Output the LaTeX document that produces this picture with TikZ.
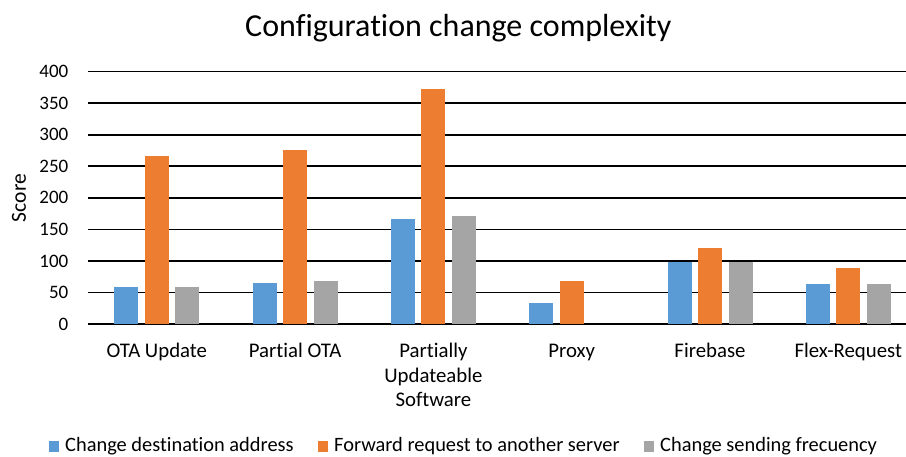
\documentclass[tikz,border=0pt]{standalone}
\usepackage{fontspec}
\setmainfont{Carlito}[Ligatures=NoCommon]

\tikzset{
    grid line/.style={draw=black, line width=1.6pt},
    tick label/.style={anchor=east, font=\fontsize{19}{22}\selectfont, inner sep=0pt},
    cat label/.style={anchor=base, align=center, font=\fontsize{20.8}{24.7}\selectfont, inner sep=0pt},
    legend label/.style={anchor=base west, font=\fontsize{20.4}{24}\selectfont, inner sep=0pt},
    addr bar/.style={fill=addrblue, draw=none},
    fwd bar/.style={fill=fwdorange, draw=none},
    freq bar/.style={fill=freqgray, draw=none}
}
\definecolor{addrblue}{HTML}{5B9BD5}
\definecolor{fwdorange}{HTML}{ED7D31}
\definecolor{freqgray}{HTML}{A5A5A5}

\begin{document}
\begin{tikzpicture}[x=1pt, y=1pt]
    \useasboundingbox (0,0) rectangle (906,456);

    % title and axis name
    \node[anchor=base, inner sep=0pt, font=\fontsize{32}{36}\selectfont] (title) at (458.3,419.3) {Configuration change complexity};
    \node[rotate=90, inner sep=0pt, font=\fontsize{21.5}{24}\selectfont] (score) at (19,258) {Score};

    % grid lines and tick labels
    \foreach \v in {0,50,...,400} {
        \draw[grid line] (88,132+0.6308*\v) -- (906,132+0.6308*\v);
        \node[tick label] (tick\v) at (68.5,132+0.6308*\v) {\v};
    }

    % bars: index / blue / orange / gray
    \foreach \i/\a/\f/\g in {0/58/266/58, 1/65/276/68, 2/167/372/172, 3/33/68/0, 4/99/120/99, 5/63/89/63} {
        \pgfmathsetmacro{\cx}{156.8+138.3*\i}
        \fill[addr bar] (\cx-42.5,132) rectangle (\cx-18.5,132+0.6308*\a);
        \fill[fwd bar] (\cx-12,132) rectangle (\cx+12,132+0.6308*\f);
        \ifnum\g>0
            \fill[freq bar] (\cx+18.5,132) rectangle (\cx+42.5,132+0.6308*\g);
        \fi
    }

    % category labels (base is the last line)
    \node[cat label] (ota) at (156.8,98.7) {OTA Update};
    \node[cat label] (partial) at (295.1,98.7) {Partial OTA};
    \node[cat label] (pus) at (433.4,49.3) {Partially\\Updateable\\Software};
    \node[cat label] (proxy) at (571.7,98.7) {Proxy};
    \node[cat label] (firebase) at (710.0,98.7) {Firebase};
    \node[cat label] (flex) at (848.3,98.7) {Flex-Request};

    % legend
    \fill[addrblue] (49,4.3) rectangle (59,14.8);
    \node[legend label] (leg addr) at (65,4.2) {Change destination address};
    \fill[fwdorange] (318,4.3) rectangle (328,14.8);
    \node[legend label] (leg fwd) at (334,4.2) {Forward request to another server};
    \fill[freqgray] (644,4.3) rectangle (654,14.8);
    \node[legend label] (leg freq) at (660,4.2) {Change sending frecuency};
\end{tikzpicture}
\end{document}
